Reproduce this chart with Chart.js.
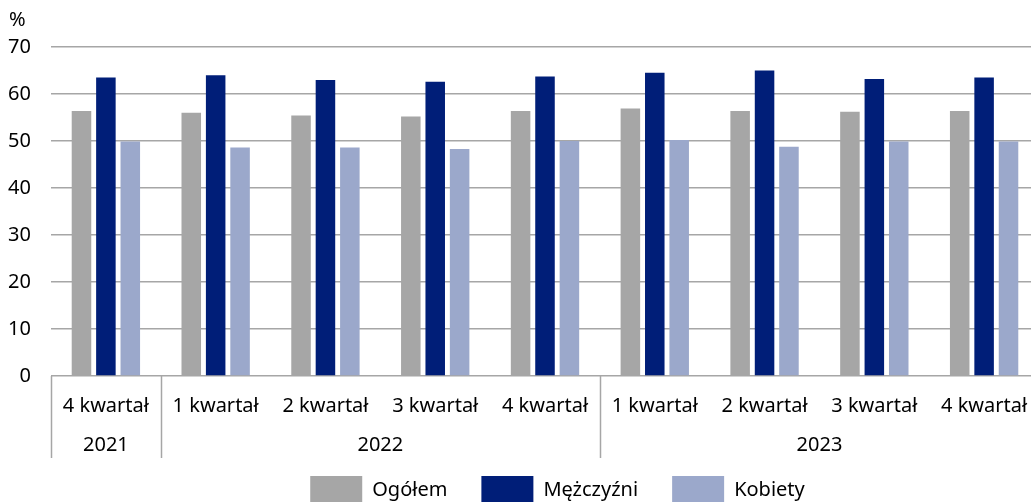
<!DOCTYPE html>
<html>
<head>
<meta charset="utf-8">
<script src="https://cdn.jsdelivr.net/npm/chart.js@4.4.1/dist/chart.umd.min.js"></script>
<style>
  html, body { margin: 0; padding: 0; background: #fff; overflow: hidden; }
  #wrap { width: 1031px; height: 502px; overflow: hidden; }
</style>
</head>
<body>
<div id="wrap"><canvas id="chart" width="1039" height="514"></canvas></div>
<script>
// quarters on the x axis, years below them
const quarters = ["4 kwartał", "1 kwartał", "2 kwartał", "3 kwartał", "4 kwartał",
  "1 kwartał", "2 kwartał", "3 kwartał", "4 kwartał"];
const years = ["2021", "2022", "2023"];
const yearSpans = [1, 4, 4]; // how many quarters each year covers

const ogolem = [56.4, 56.0, 55.4, 55.2, 56.4, 56.9, 56.4, 56.2, 56.4];
const mezczyzni = [63.5, 64.0, 63.0, 62.6, 63.7, 64.5, 65.0, 63.2, 63.5];
const kobiety = [49.9, 48.6, 48.6, 48.3, 50.0, 50.2, 48.8, 49.9, 49.9];

const yTicks = [0, 10, 20, 30, 40, 50, 60, 70];

const FONT = "'Noto Sans', sans-serif";
const LINE = "#a6a6a6";

// year row + separators under the quarter labels, and the % unit on top
const groupAxis = {
  id: "groupAxis",
  afterLayout(chart) {
    // move legend a bit to the right like in the original
    chart.legend.left += 38;
    chart.legend.right += 38;
  },
  afterDraw(chart) {
    const ctx = chart.ctx;
    const x = chart.scales.x;
    const top = chart.chartArea.bottom;
    const bottom = top + 82;

    const edge = (i) => {
      if (i <= 0) return x.left;
      if (i >= quarters.length) return x.right;
      return (x.getPixelForValue(i - 1) + x.getPixelForValue(i)) / 2;
    };

    ctx.save();
    ctx.strokeStyle = LINE;
    ctx.lineWidth = 1.5;
    ctx.fillStyle = "#000";
    ctx.font = "20px " + FONT;
    ctx.textAlign = "center";
    ctx.textBaseline = "middle";

    let start = 0;
    years.forEach((y, k) => {
      const a = edge(start);
      const b = edge(start + yearSpans[k]);
      // separator before each year group (not at the far right)
      ctx.beginPath();
      ctx.moveTo(Math.round(a) + 0.5, top);
      ctx.lineTo(Math.round(a) + 0.5, bottom);
      ctx.stroke();
      ctx.fillText(y, (a + b) / 2, top + 69);
      start += yearSpans[k];
    });

    ctx.textAlign = "left";
    ctx.fillText("%", 9, 20);
    ctx.restore();
  }
};

new Chart(document.getElementById("chart"), {
  type: "bar",
  data: {
    labels: quarters,
    datasets: [
      { label: "Ogółem", data: ogolem, backgroundColor: "#a6a6a6" },
      { label: "Mężczyźni", data: mezczyzni, backgroundColor: "#001e78" },
      { label: "Kobiety", data: kobiety, backgroundColor: "#9ba8cb" }
    ]
  },
  options: {
    responsive: false,
    animation: false,
    devicePixelRatio: 1,
    layout: { padding: { top: 47, left: 0, right: 0, bottom: 0 } },
    datasets: {
      bar: { categoryPercentage: 0.667, barPercentage: 0.8 }
    },
    plugins: {
      legend: {
        position: "bottom",
        labels: {
          boxWidth: 52,
          boxHeight: 28,
          padding: 34,
          color: "#000",
          font: { family: FONT, size: 20 }
        }
      },
      tooltip: { enabled: false },
      title: { display: false }
    },
    scales: {
      x: {
        grid: { display: false },
        border: { display: false },
        ticks: {
          color: "#000",
          font: { family: FONT, size: 20 },
          padding: 10,
          maxRotation: 0,
          autoSkip: false
        },
        afterFit(scale) { scale.height = 66; }
      },
      y: {
        min: 0,
        max: 70,
        afterBuildTicks(scale) { scale.ticks = yTicks.map(v => ({ value: v })); },
        grid: { color: LINE, lineWidth: 1.5, drawTicks: false },
        border: { display: false },
        ticks: {
          color: "#000",
          font: { family: FONT, size: 20 },
          padding: 20
        },
        afterFit(scale) { scale.width = 51; }
      }
    }
  },
  plugins: [groupAxis]
});
</script>
</body>
</html>
